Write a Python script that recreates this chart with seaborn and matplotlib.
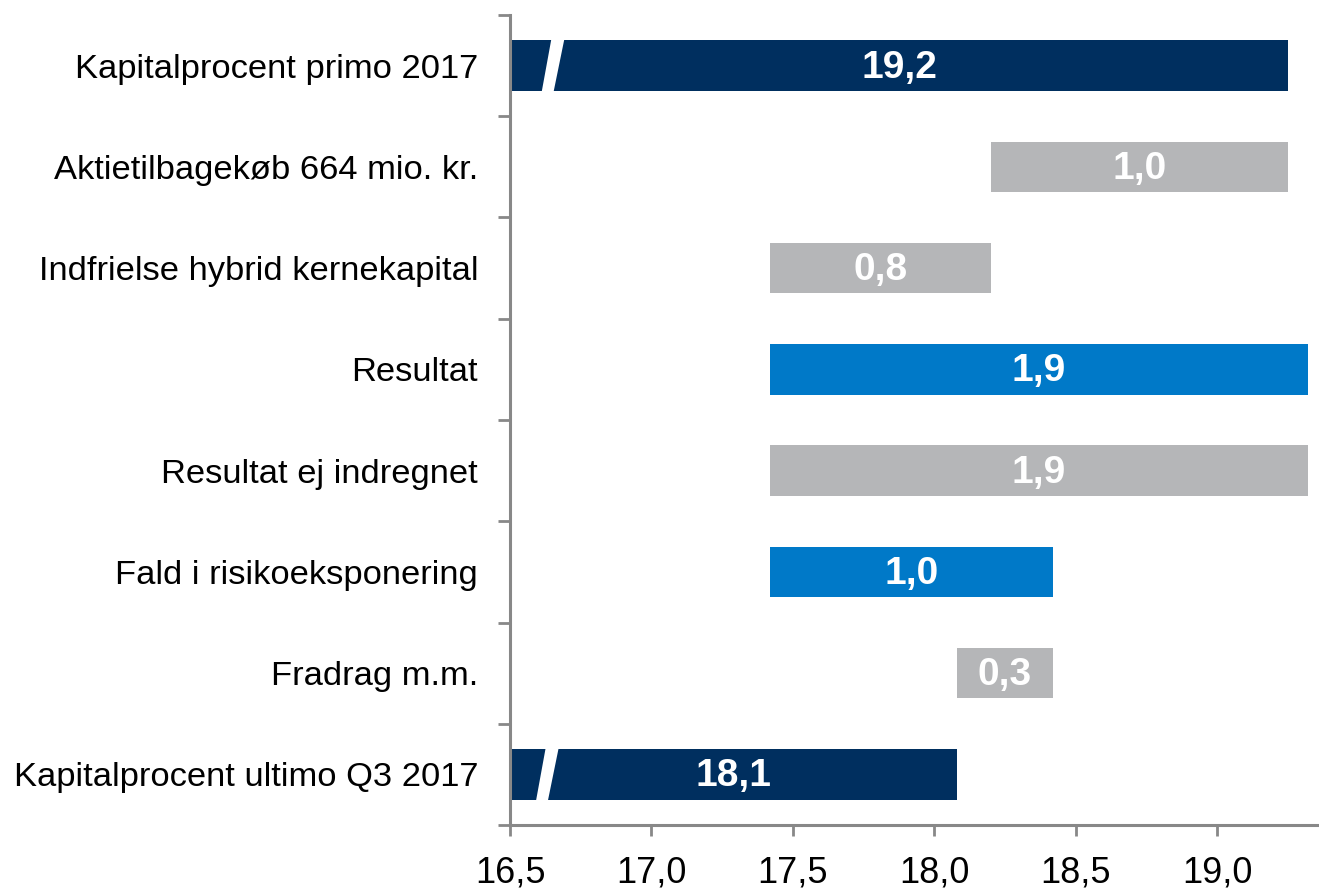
import matplotlib
matplotlib.use("Agg")
import matplotlib.pyplot as plt
import seaborn as sns
import numpy as np
from matplotlib.patches import Polygon

categories = [
    "Kapitalprocent primo 2017",
    "Aktietilbagekøb 664 mio. kr.",
    "Indfrielse hybrid kernekapital",
    "Resultat",
    "Resultat ej indregnet",
    "Fald i risikoeksponering",
    "Fradrag m.m.",
    "Kapitalprocent ultimo Q3 2017",
]
starts = [16.5, 18.20, 17.42, 17.42, 17.42, 17.42, 18.08, 16.5]
ends = [19.25, 19.25, 18.20, 19.32, 19.32, 18.42, 18.42, 18.08]
value_labels = ["19,2", "1,0", "0,8", "1,9", "1,9", "1,0", "0,3", "18,1"]
kinds = ["total", "grey", "grey", "blue", "grey", "blue", "grey", "total"]
breaks = [16.65, None, None, None, None, None, None, 16.63]
xticks = [16.5, 17.0, 17.5, 18.0, 18.5, 19.0]
xtick_labels = ["16,5", "17,0", "17,5", "18,0", "18,5", "19,0"]

colors = {"total": "#002F5F", "grey": "#B5B6B8", "blue": "#0079C8"}

sns.set_style("white")
plt.rcParams["font.family"] = ["Liberation Sans", "DejaVu Sans"]
plt.rcParams["text.color"] = "black"
plt.rcParams["xtick.color"] = "black"
plt.rcParams["ytick.color"] = "black"

fig = plt.figure(figsize=(13.19, 8.88), dpi=100)
ax = fig.add_axes([510 / 1319, 63 / 888, 1 - 510 / 1319, (825 - 15) / 888])

lengths = [e - s for s, e in zip(starts, ends)]
sns.barplot(x=lengths, y=categories, left=starts, orient="h", color="#888888",
            width=0.5, ax=ax, saturation=1)

for patch, k in zip(ax.patches, kinds):
    patch.set_facecolor(colors[k])
    patch.set_edgecolor("none")

# value labels
for i, (s, e, lab) in enumerate(zip(starts, ends, value_labels)):
    ax.text((s + e) / 2, i + 0.02, lab, ha="center", va="center", color="white",
            fontsize=28, fontweight="bold")

# axis break marks
for i, c in enumerate(breaks):
    if c is None:
        continue
    yb, yt = i + 0.26, i - 0.26
    poly = Polygon([(c - 0.038, yb), (c + 0.004, yb), (c + 0.042, yt), (c - 0.004, yt)],
                   closed=True, facecolor="white", edgecolor="none", zorder=5)
    ax.add_patch(poly)

ax.set_xlim(16.5, 19.36)
ax.set_ylim(len(categories) - 0.5, -0.5)
ax.set_xticks(xticks)
ax.set_xticklabels(xtick_labels, fontsize=26)
ax.set_yticks(np.arange(len(categories)))
ax.set_yticklabels(categories, fontsize=24.8)
ax.set_yticks(np.arange(len(categories) + 1) - 0.5, minor=True)
ax.tick_params(axis="y", which="major", left=True, length=0, pad=23, labelcolor="black")
ax.tick_params(axis="y", which="minor", left=True, length=9, width=2, color="#888888", direction="out")
ax.tick_params(axis="x", which="major", bottom=True, length=8, width=2, color="#888888",
               direction="out", pad=14, labelcolor="black")
ax.set_xlabel("")
ax.set_ylabel("")

for side in ["top", "right"]:
    ax.spines[side].set_visible(False)
for side in ["left", "bottom"]:
    ax.spines[side].set_visible(True)
    ax.spines[side].set_color("#888888")
    ax.spines[side].set_linewidth(2.2)

fig.savefig("out.png", dpi=100)
